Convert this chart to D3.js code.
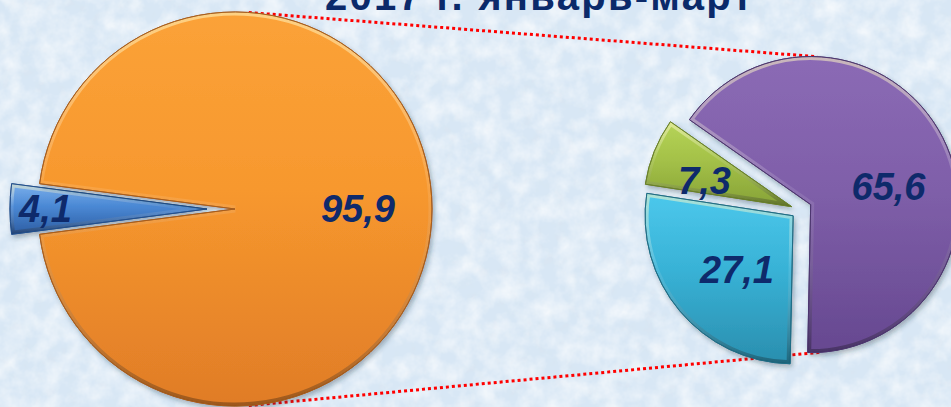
<!DOCTYPE html>
<html><head><meta charset="utf-8">
<script src="https://cdn.jsdelivr.net/npm/d3@7/dist/d3.min.js"></script>
<style>html,body{margin:0;padding:0;overflow:hidden;background:#d9e7f4}</style>
</head><body>
<script>
// ---- data ----
const titleText = "2017 г. январь-март";
const leftCategories = ["Сегмент 1", "Сегмент 2"];
const leftValues = [4.1, 95.9];
const leftLabels = ["4,1", "95,9"];
const rightCategories = ["Сегмент A", "Сегмент B", "Сегмент C"];
const rightValues = [65.6, 27.1, 7.3];
const rightLabels = ["65,6", "27,1", "7,3"];

// ---- styles ----
const leftColors = [
  {top:"#7cb0ec", mid:"#4a88d4", bot:"#2d5da3", stroke:"#23508e"},
  {top:"#fba238", mid:"#f7982e", bot:"#e07c27", stroke:"#a85d1b"}
];
const rightColors = [
  {top:"#8b6ab5", mid:"#7f5fa9", bot:"#664890", stroke:"#4d3670"},
  {top:"#4cc8ec", mid:"#38b2d6", bot:"#2a8eae", stroke:"#1e6d86"},
  {top:"#b6d458", mid:"#a4c148", bot:"#86a237", stroke:"#6a812a"}
];
const leftExplode = [28, 0];
const rightExplode = [12, 9, 9];
const leftLabelR = [0.82, 0.624];
const rightLabelR = [0.62, 0.62, 0.62];
const rightLabelShift = [[-4, 24], [14, -5], [-2, 8]];

const W = 951, H = 407;
const L = {cx: 235, cy: 209, r: 197};
const R = {cx: 800, cy: 210, r: 148};
const deg = Math.PI / 180;

const svg = d3.select("body").append("svg").attr("width", W).attr("height", H);
const defs = svg.append("defs");

// background texture
const tex = defs.append("filter").attr("id", "tex").attr("x", 0).attr("y", 0).attr("width", "100%").attr("height", "100%");
tex.append("feTurbulence").attr("type", "fractalNoise").attr("baseFrequency", "0.05").attr("numOctaves", 4).attr("seed", 7);
tex.append("feColorMatrix").attr("type", "matrix")
  .attr("values", "0 0 0 0 1  0 0 0 0 1  0 0 0 0 1  0 0 0 1.2 -0.4");
const tex2 = defs.append("filter").attr("id", "tex2").attr("x", 0).attr("y", 0).attr("width", "100%").attr("height", "100%");
tex2.append("feTurbulence").attr("type", "fractalNoise").attr("baseFrequency", "0.09").attr("numOctaves", 3).attr("seed", 19);
tex2.append("feColorMatrix").attr("type", "matrix")
  .attr("values", "0 0 0 0 0.70  0 0 0 0 0.78  0 0 0 0 0.86  0 0 0 1.1 -0.55");

svg.append("rect").attr("width", W).attr("height", H).attr("fill", "#d8e7f5");
svg.append("rect").attr("width", W).attr("height", H).attr("filter", "url(#tex2)");
svg.append("rect").attr("width", W).attr("height", H).attr("filter", "url(#tex)");

// shadow filter
const sh = defs.append("filter").attr("id", "shadow").attr("x", "-10%").attr("y", "-10%").attr("width", "125%").attr("height", "125%");
sh.append("feDropShadow").attr("dx", 2).attr("dy", 3).attr("stdDeviation", 2.5)
  .attr("flood-color", "#203040").attr("flood-opacity", 0.35);

// bevel gradient
const bev = defs.append("linearGradient").attr("id", "bevel").attr("x1", 0).attr("y1", 0).attr("x2", 0).attr("y2", 1);
bev.append("stop").attr("offset", "0%").attr("stop-color", "#fff8c0").attr("stop-opacity", 0.55);
bev.append("stop").attr("offset", "45%").attr("stop-color", "#fff").attr("stop-opacity", 0.1);
bev.append("stop").attr("offset", "100%").attr("stop-color", "#000").attr("stop-opacity", 0.3);

function makeGrad(id, c) {
  const g = defs.append("linearGradient").attr("id", id).attr("x1", 0).attr("y1", 0).attr("x2", 0).attr("y2", 1);
  g.append("stop").attr("offset", "0%").attr("stop-color", c.top);
  g.append("stop").attr("offset", "45%").attr("stop-color", c.mid);
  g.append("stop").attr("offset", "100%").attr("stop-color", c.bot);
}
leftColors.forEach((c, i) => makeGrad("lg" + i, c));
rightColors.forEach((c, i) => makeGrad("rg" + i, c));

// pies
const leftStart = -Math.PI / 2 - Math.PI * leftValues[0] / d3.sum(leftValues);
const leftPie = d3.pie().sort(null).startAngle(leftStart).endAngle(leftStart + 2 * Math.PI)(leftValues);
const rightStart = -55 * deg;
const rightPie = d3.pie().sort(null).startAngle(rightStart).endAngle(rightStart + 2 * Math.PI)(rightValues);

function center(P, d, e) {
  const m = (d.startAngle + d.endAngle) / 2;
  return [P.cx + e * Math.sin(m), P.cy - e * Math.cos(m)];
}
function onCircle(c, r, a) { return [c[0] + r * Math.sin(a * deg), c[1] - r * Math.cos(a * deg)]; }

// dotted connector lines (behind pies)
const purpleC = center(R, rightPie[0], rightExplode[0]);
const conn = [
  [onCircle([L.cx, L.cy], L.r, 4), onCircle(purpleC, R.r, 2.5)],
  [onCircle([L.cx, L.cy], L.r, 176), onCircle(purpleC, R.r, 176)]
];
svg.selectAll("line.conn").data(conn).join("line").attr("class", "conn")
  .attr("x1", d => d[0][0]).attr("y1", d => d[0][1])
  .attr("x2", d => d[1][0]).attr("y2", d => d[1][1])
  .attr("stroke", "#ff0000").attr("stroke-width", 3).attr("stroke-dasharray", "3,3");

// title (partly above the top edge, as in the reference)
svg.append("text").attr("x", 325).attr("y", 10)
  .attr("textLength", 427)
  .attr("font-family", "Liberation Sans, Arial, sans-serif").attr("font-weight", "bold")
  .attr("font-size", 40).attr("fill", "#0b2a6a").text(titleText);

function drawPie(P, arcs, explode, colors, gradPrefix, labels, labelR, shifts, key) {
  const arc = d3.arc().innerRadius(0).outerRadius(P.r);
  arcs.forEach((d, i) => {
    const c = center(P, d, explode[i]);
    const g = svg.append("g").attr("transform", `translate(${c[0]},${c[1]})`);
    const clipId = key + "clip" + i;
    defs.append("clipPath").attr("id", clipId).append("path").attr("d", arc(d));
    g.append("path").attr("d", arc(d)).attr("fill", `url(#${gradPrefix}${i})`)
      .attr("stroke", colors[i].stroke).attr("stroke-width", 1).attr("filter", "url(#shadow)");
    g.append("path").attr("d", arc(d)).attr("fill", "none").attr("stroke", "url(#bevel)")
      .attr("stroke-width", 7).attr("clip-path", `url(#${clipId})`);
    g.append("path").attr("d", arc(d)).attr("fill", "none").attr("stroke", colors[i].stroke)
      .attr("stroke-width", 1);
  });
  arcs.forEach((d, i) => {
    const c = center(P, d, explode[i]);
    const la = d3.arc().innerRadius(P.r * labelR[i]).outerRadius(P.r * labelR[i]);
    const p = la.centroid(d);
    const s = shifts ? shifts[i] : [0, 0];
    svg.append("text").attr("x", c[0] + p[0] + s[0]).attr("y", c[1] + p[1] + s[1])
      .attr("dy", "0.35em").attr("text-anchor", "middle")
      .attr("font-family", "Liberation Sans, Arial, sans-serif").attr("font-weight", "bold")
      .attr("font-style", "italic").attr("font-size", 38).attr("fill", "#0e2a6b")
      .text(labels[i]);
  });
}

drawPie(L, leftPie, leftExplode, leftColors, "lg", leftLabels, leftLabelR, null, "L");
drawPie(R, rightPie, rightExplode, rightColors, "rg", rightLabels, rightLabelR, rightLabelShift, "R");
</script>
</body></html>
